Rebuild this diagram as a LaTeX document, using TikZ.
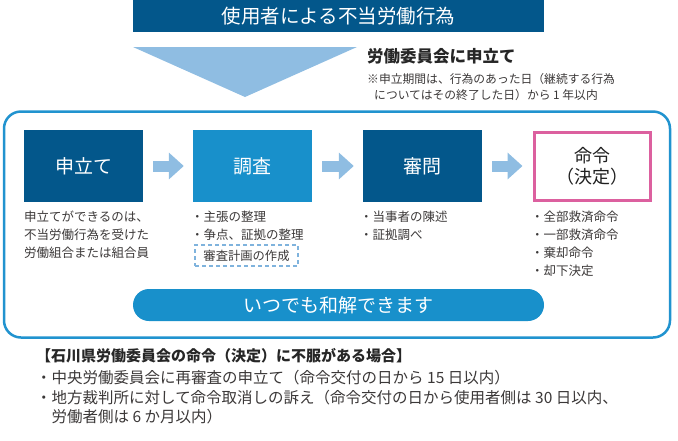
\documentclass[tikz,border=0pt]{standalone}
\usepackage{fontspec}
\setmainfont{Noto Sans CJK JP}
\usetikzlibrary{arrows.meta,calc}
\definecolor{dkblue}{HTML}{03578B}
\definecolor{midblue}{HTML}{1890CB}
\definecolor{ltblue}{HTML}{8FBDE2}
\definecolor{framec}{HTML}{2193CF}
\definecolor{pinkc}{HTML}{DC609F}
\definecolor{dashc}{HTML}{7FB3DD}
\definecolor{txt}{HTML}{3B3838}
\newcommand\fsz[2]{\fontsize{#1}{#2}\selectfont}
\tikzset{
  stepbox/.style={minimum width=119pt, minimum height=72pt, inner sep=0pt, text=white, font=\fsz{19}{22}},
  flowarrow/.style={draw=ltblue, line width=11pt, -{Triangle[length=15pt,width=26pt]}},
  desc/.style={anchor=west, inner sep=0pt, text=txt, font=\fsz{12.5}{15}},
  bottomtxt/.style={anchor=west, inner sep=0pt, text=txt, font=\fsz{15.5}{18}},
}
\begin{document}
\begin{tikzpicture}[x=1pt,y=-1pt]
\useasboundingbox (0,0) rectangle (678,440);
% top bar
\node[fill=dkblue, minimum width=411pt, minimum height=32pt, inner sep=0pt, anchor=north west, text=white, font=\fsz{19.5}{22}] (act) at (133,0) {使用者による不当労働行為};
% triangle
\fill[ltblue] (133,47) -- (357,47) -- (245,97) -- cycle;
% heading and note
\node[anchor=west, inner sep=0pt, text=black!85, font=\bfseries\fsz{16.5}{19}] (apply) at (367,56) {労働委員会に申立て};
\node[desc, font=\fsz{11.8}{14}] (note1) at (367,79) {※申立期間は、行為のあった日（継続する行為};
\node[desc, font=\fsz{11.8}{14}] (note2) at (374,95) {についてはその終了した日）から 1 年以内};
% frame
\draw[framec, line width=2.5pt, rounded corners=17pt] (4,111.5) rectangle (670,337.5);
% step boxes
\node[stepbox, fill=dkblue] (s1) at (83.5,166) {申立て};
\node[stepbox, fill=midblue] (s2) at (252.5,166) {調査};
\node[stepbox, fill=dkblue] (s3) at (422.5,166) {審問};
\node[stepbox, draw=pinkc, line width=3pt, fill=white, minimum width=116pt, minimum height=68pt, text=black!88, align=center, font=\fsz{18}{21}] (s4) at (592.5,166) {命令\\（決定）};
% arrows
\draw[flowarrow] ($(s1.east)+(10,0)$) -- ($(s2.west)+(-9,0)$);
\draw[flowarrow] ($(s2.east)+(10,0)$) -- ($(s3.west)+(-9,0)$);
\draw[flowarrow] ($(s3.east)+(10,0)$) -- ($(s4.west)+(-10.5,0)$);
% descriptions
\node[desc] (d11) at (24,217) {申立てができるのは、};
\node[desc] (d12) at (24,235) {不当労働行為を受けた};
\node[desc] (d13) at (24,253) {労働組合または組合員};
\node[desc] (d21) at (191,217) {・主張の整理};
\node[desc] (d22) at (191,235) {・争点、証拠の整理};
\node[draw=dashc, dash pattern=on 4pt off 3pt, line width=1.2pt, minimum width=103pt, minimum height=21pt, inner sep=0pt, text=txt, font=\fsz{12.3}{14}] (plan) at (246.5,255.5) {審査計画の作成};
\node[desc] (d31) at (360,217) {・当事者の陳述};
\node[desc] (d32) at (360,235) {・証拠調べ};
\node[desc] (d41) at (531,217) {・全部救済命令};
\node[desc] (d42) at (531,235) {・一部救済命令};
\node[desc] (d43) at (531,253) {・棄却命令};
\node[desc] (d44) at (531,271) {・却下決定};
% pill
\node[fill=midblue, rounded corners=16pt, minimum width=411pt, minimum height=32pt, inner sep=0pt, text=white, font=\fsz{19}{22}] (wakai) at (338.5,305) {いつでも和解できます};
% bottom
\node[bottomtxt, text=black!85, font=\bfseries\fsz{15}{18}] (b0) at (36,356) {【石川県労働委員会の命令（決定）に不服がある場合】};
\node[bottomtxt] (b1) at (36,378) {・中央労働委員会に再審査の申立て（命令交付の日から 15 日以内）};
\node[bottomtxt] (b2) at (36,398) {・地方裁判所に対して命令取消しの訴え（命令交付の日から使用者側は 30 日以内、};
\node[bottomtxt] (b3) at (51.5,417) {労働者側は 6 か月以内）};
\end{tikzpicture}
\end{document}
